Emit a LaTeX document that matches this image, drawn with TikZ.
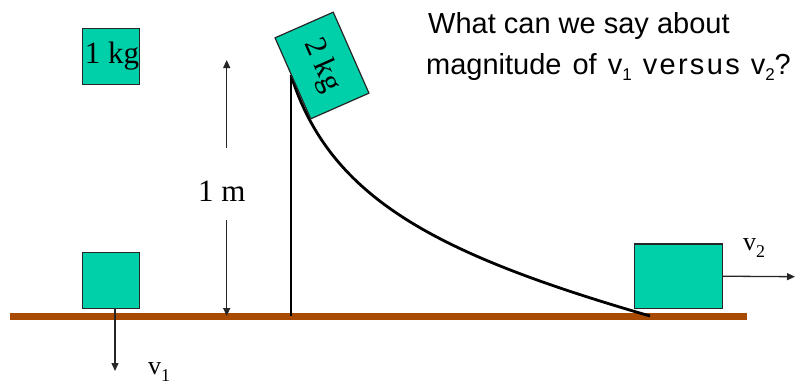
\documentclass[tikz,border=0pt]{standalone}
\usepackage{fontspec}
\setmainfont{Liberation Serif}
\newfontfamily\arialfont{Liberation Sans}
\usetikzlibrary{arrows.meta}
\definecolor{blockfill}{RGB}{0,208,170}
\definecolor{groundbrown}{RGB}{168,75,0}
\newcommand\fsz[1]{\fontsize{#1}{#1}\selectfont}
\newcommand\sanssub[1]{\raisebox{-6pt}{\fsz{17}#1}}
\newcommand\serifsub[1]{\raisebox{-7pt}{\fsz{18}#1}}
\newcommand\wsp{\hspace{11pt}}
\begin{document}
\begin{tikzpicture}[x=1pt,y=-1pt,
  block/.style={draw=black!85,line width=1.2pt,fill=blockfill,inner sep=0pt,outer sep=0pt},
  arr/.style={draw=black!85,line width=1.3pt,-{Triangle[length=8pt,width=7pt]}},
  slope/.style={draw=black,line width=2.8pt},
  post/.style={draw=black,line width=2.4pt},
  ground/.style={draw=groundbrown,line width=7pt},
  lbl/.style={inner sep=0pt,font=\fsz{31}},
  vlbl/.style={inner sep=0pt,font=\fsz{26}},
  qtxt/.style={inner sep=0pt,anchor=base west,font=\arialfont\fsz{29}}]
\useasboundingbox (0,0) rectangle (802,384);
% ground
\coordinate (gl) at (10,316);
\coordinate (gr) at (747,316);
\draw[ground] (gl) -- (gr);
% top-left block
\node[block,minimum width=56.5pt,minimum height=56pt,font=\fsz{31}] (b1top) at (111,56.3) {\hspace*{2pt}1 kg};
% bottom-left block
\node[block,minimum width=56.5pt,minimum height=56.5pt] (b1) at (111,280.5) {};
\coordinate (v1end) at (115,371);
\draw[arr] (b1.south -| v1end) -- (v1end);
\node[vlbl,anchor=base west] (v1) at (148,374.3) {v\serifsub{1}};
% height arrows
\node[lbl] (hm) at (221.7,191.7) {1 m};
\coordinate (htop) at (226.7,60);
\coordinate (hbot) at (226.7,316);
\coordinate (hup) at (226.7,148);
\coordinate (hdn) at (226.7,220);
\draw[arr] (hup) -- (htop);
\draw[arr] (hdn) -- (hbot);
% post and slope
\coordinate (ptop) at (291,75);
\coordinate (pbot) at (291,316);
\draw[post] (ptop) -- (pbot);
\coordinate (send) at (650,316);
\draw[slope] (ptop) .. controls (330,200) and (440,255) .. (send);
% tilted block
\node[block,minimum width=88.5pt,minimum height=63.6pt,rotate=-66.2,font=\fsz{31}] (b2) at (322,65.5) {2 kg};
% right block
\node[block,minimum width=88pt,minimum height=64.3pt] (bR) at (678.7,276.2) {};
\coordinate (v2end) at (795,276.7);
\draw[arr] (bR.east) -- (v2end);
\node[vlbl,anchor=base west] (v2) at (743,250.7) {v\serifsub{2}};
% question
\node[qtxt] (q1) at (428,33.3) {What can we say about};
\node[qtxt] (q2) at (426,74) {magnitude\wsp of\wsp v\sanssub{1}\wsp{\addfontfeatures{LetterSpace=8}versus}\wsp v\sanssub{2}?};
\end{tikzpicture}
\end{document}
